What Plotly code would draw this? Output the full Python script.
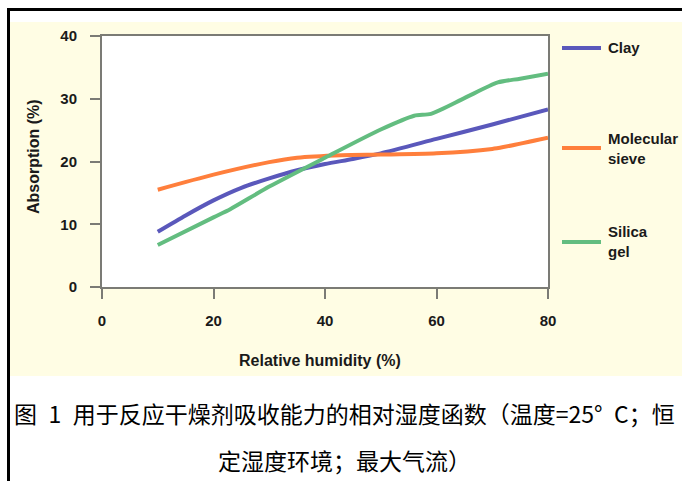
"""Absorption vs relative humidity for three desiccants."""

import plotly.graph_objects as go

# data
clay_rh = [10, 15, 20, 25, 30, 35, 40, 45, 50, 60, 70, 80]
clay_abs = [8.8, 11.4, 13.8, 15.8, 17.3, 18.6, 19.6, 20.4, 21.3, 23.6, 25.9, 28.3]

sieve_rh = [10, 20, 30, 35, 43, 50, 60, 70, 72, 80]
sieve_abs = [15.5, 17.9, 19.9, 20.6, 21.0, 21.1, 21.3, 22.0, 22.3, 23.8]

silica_rh = [10, 20, 23, 30, 40, 50, 56, 59, 65, 71, 75, 80]
silica_abs = [6.7, 11.1, 12.4, 16.0, 20.6, 25.1, 27.3, 27.6, 30.1, 32.6, 33.2, 34.0]

x_ticks = [0, 20, 40, 60, 80]
y_ticks = [0, 10, 20, 30, 40]

series_names = ["Clay", "Molecular<br>sieve", "Silica<br>gel"]
colors = ["#5a58bb", "#ff7f3c", "#63bd80"]

caption_1 = "图\u20021\u2002用于反应干燥剂吸收能力的相对湿度函数（温度=25°\u2002C；恒"
caption_2 = "定湿度环境；最大气流）"

W, H = 682, 481
L, R, T, B = 102, 548, 36, 287  # plot area in pixels


def px_x(p):
    return (p - L) / (R - L)


def px_y(p):
    return (B - p) / (B - T)


fig = go.Figure()
for xs, ys, c in zip([clay_rh, sieve_rh, silica_rh], [clay_abs, sieve_abs, silica_abs], colors):
    fig.add_trace(go.Scatter(x=xs, y=ys, mode="lines",
                             line=dict(color=c, width=4, shape="spline", smoothing=0.7),
                             showlegend=False, hoverinfo="skip"))

bold = dict(family="Liberation Sans", size=15, color="#1a1a1a", weight="bold")

shapes = [
    # cream panel behind the chart
    dict(type="rect", xref="paper", yref="paper", x0=px_x(10), x1=px_x(682), y0=px_y(376), y1=px_y(22),
         fillcolor="#fffde4", line_width=0, layer="below"),
    # white plotting area on top of the panel
    dict(type="rect", xref="paper", yref="paper", x0=0, x1=1, y0=0, y1=1,
         fillcolor="white", line_width=0, layer="below"),
    # black frame top and left
    dict(type="line", xref="paper", yref="paper", x0=px_x(7), x1=px_x(682), y0=px_y(9.5), y1=px_y(9.5),
         line=dict(color="black", width=3)),
    dict(type="line", xref="paper", yref="paper", x0=px_x(8.5), x1=px_x(8.5), y0=px_y(8), y1=px_y(481),
         line=dict(color="black", width=3)),
]

annotations = []
legend_y = [48, 148, 242]
for name, c, ly in zip(series_names, colors, legend_y):
    shapes.append(dict(type="line", xref="paper", yref="paper", x0=px_x(562), x1=px_x(601),
                       y0=px_y(ly), y1=px_y(ly), line=dict(color=c, width=4)))
    annotations.append(dict(text=name, xref="paper", yref="paper", x=px_x(606), y=px_y(ly),
                            xanchor="left", yanchor="middle", align="left", showarrow=False,
                            font=bold))

annotations += [
    dict(text="Relative humidity (%)", xref="paper", yref="paper", x=px_x(320), y=px_y(360),
         xanchor="center", yanchor="middle", showarrow=False, font=dict(bold, size=16)),
    dict(text="Absorption (%)", xref="paper", yref="paper", x=px_x(33), y=px_y(157),
         xanchor="center", yanchor="middle", textangle=-90, showarrow=False, font=dict(bold, size=16)),
    dict(text=caption_1, xref="paper", yref="paper", x=px_x(12), y=px_y(413),
         xanchor="left", yanchor="middle", showarrow=False,
         font=dict(family="Noto Sans CJK SC", size=23, color="black")),
    dict(text=caption_2, xref="paper", yref="paper", x=px_x(344), y=px_y(460),
         xanchor="center", yanchor="middle", showarrow=False,
         font=dict(family="Noto Sans CJK SC", size=23, color="black")),
]

axis_common = dict(showgrid=False, zeroline=False, showline=True, linecolor="#7b7b75", linewidth=2,
                   mirror=True, ticks="outside", ticklen=10, tickwidth=2, tickcolor="#7b7b75",
                   tickfont=bold)

fig.update_layout(
    width=W, height=H,
    margin=dict(l=L, r=W - R, t=T, b=H - B),
    paper_bgcolor="white", plot_bgcolor="white",
    xaxis=dict(axis_common, range=[0, 80], tickvals=x_ticks, ticklabelstandoff=9),
    yaxis=dict(axis_common, range=[0, 40], tickvals=y_ticks, ticklabelstandoff=10),
    shapes=shapes, annotations=annotations,
)

# drop the page's default body margin so the figure sits at the top-left corner
fig.write_html("out.html", config={"displayModeBar": False},
               post_script="document.body.style.margin='0';")
